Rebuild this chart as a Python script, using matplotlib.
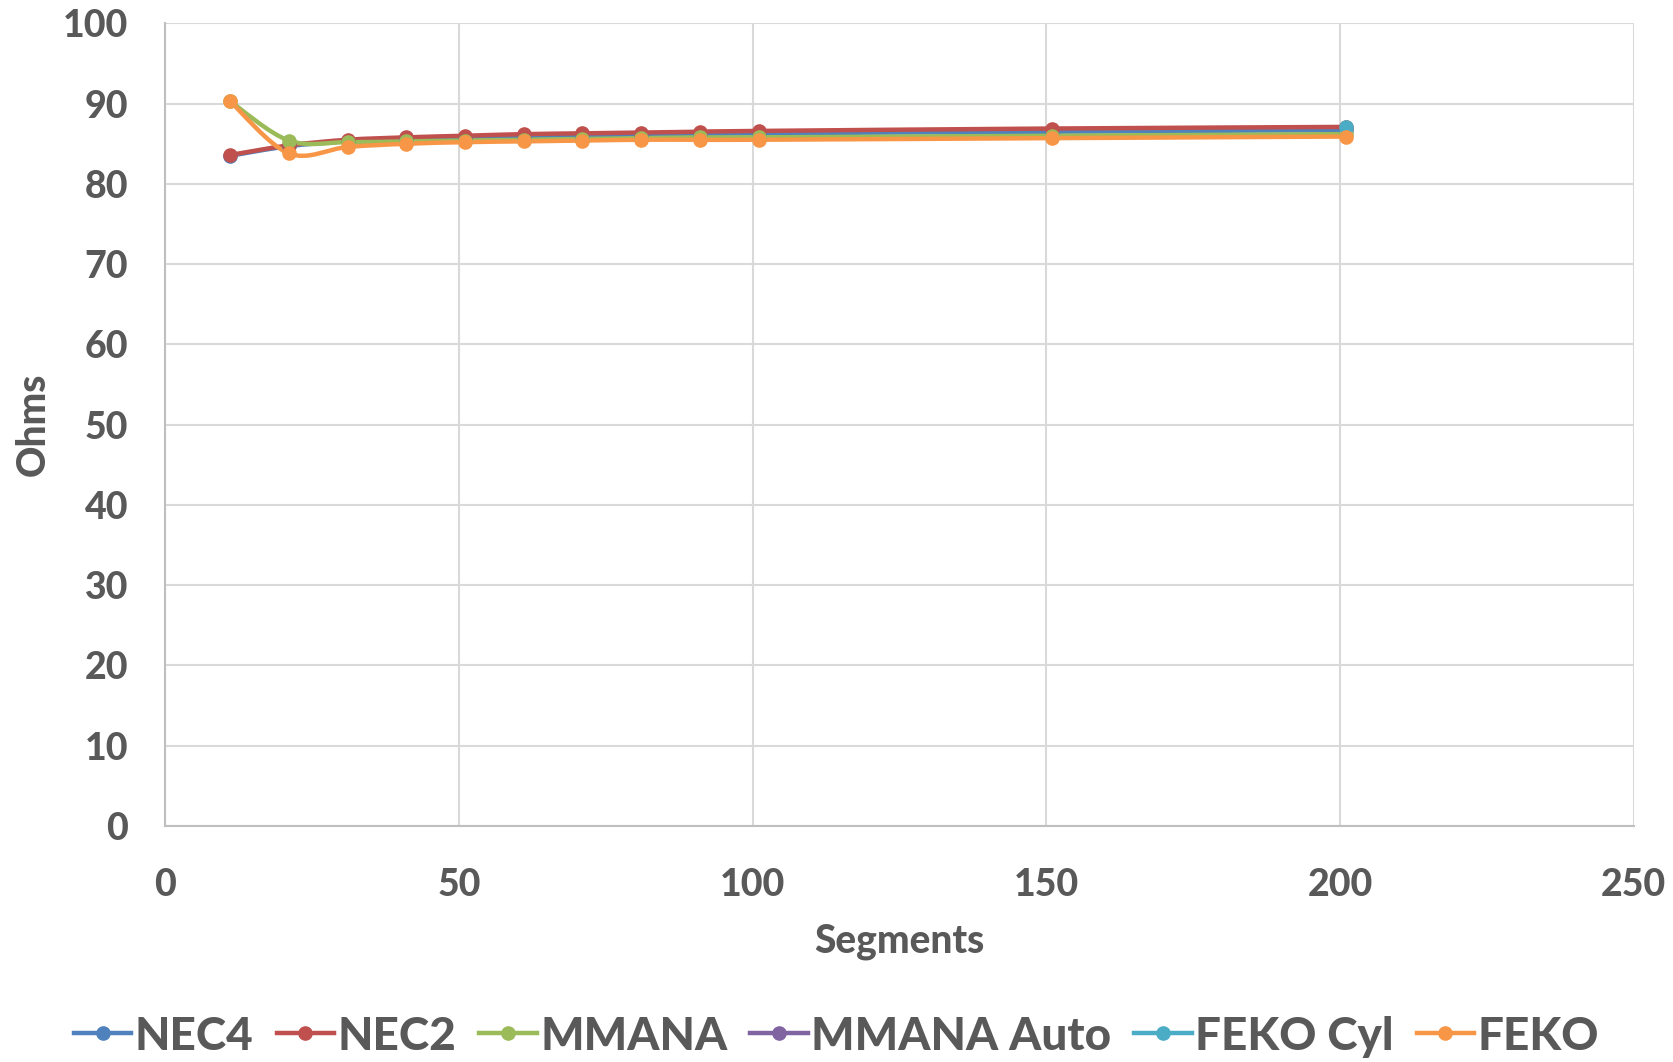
import numpy as np
import matplotlib
matplotlib.use("Agg")
import matplotlib.pyplot as plt
from matplotlib.path import Path
from matplotlib.patches import PathPatch
from matplotlib.lines import Line2D

# Segment counts and feed-point resistance (ohms) per solver
segments = [11, 21, 31, 41, 51, 61, 71, 81, 91, 101, 151, 201]
nec4 = [83.5, 84.7, 85.3, 85.6, 85.8, 85.9, 86.0, 86.1, 86.2, 86.3, 86.5, 86.7]
nec2 = [83.6, 84.8, 85.5, 85.8, 86.0, 86.2, 86.3, 86.4, 86.5, 86.6, 86.9, 87.1]
mmana = [90.3, 85.4, 85.2, 85.3, 85.4, 85.5, 85.6, 85.7, 85.8, 85.8, 86.0, 86.2]
mmana_auto_x = []
mmana_auto = []
feko_cyl_x = [201]
feko_cyl = [87.1]
feko = [90.3, 83.8, 84.6, 85.0, 85.2, 85.3, 85.4, 85.5, 85.5, 85.5, 85.7, 85.9]

series = [
    ("NEC4", segments, nec4, "#4F81BD"),
    ("NEC2", segments, nec2, "#C0504D"),
    ("MMANA", segments, mmana, "#9BBB59"),
    ("MMANA Auto", mmana_auto_x, mmana_auto, "#8064A2"),
    ("FEKO Cyl", feko_cyl_x, feko_cyl, "#4BACC6"),
    ("FEKO", segments, feko, "#F79646"),
]

TEXT = "#595959"
FONT = "Lato"
LW = 3.2
MS = 9.5


def smooth_path(xs, ys):
    """Cubic Bezier path through the points (Catmull-Rom style tangents)."""
    p = np.column_stack([xs, ys]).astype(float)
    n = len(p)
    verts = [p[0]]
    codes = [Path.MOVETO]
    for i in range(n - 1):
        p0 = p[i - 1] if i > 0 else p[i]
        p1 = p[i]
        p2 = p[i + 1]
        p3 = p[i + 2] if i + 2 < n else p[i + 1]
        c1 = p1 + (p2 - p0) / 6.0
        c2 = p2 - (p3 - p1) / 6.0
        verts += [c1, c2, p2]
        codes += [Path.CURVE4] * 3
    return Path(verts, codes)


fig = plt.figure(figsize=(16.73, 10.62), dpi=100)
ax = fig.add_axes([0.0989, 0.2222, 0.8776, 0.7558])

for label, xs, ys, color in series:
    if len(xs) > 1:
        patch = PathPatch(smooth_path(xs, ys), facecolor="none", edgecolor=color,
                          lw=LW, capstyle="round", joinstyle="round", zorder=3)
        ax.add_patch(patch)
    if len(xs) > 0:
        ax.plot(xs, ys, linestyle="none", marker="o", markersize=MS,
                color=color, zorder=4)

ax.set_xlim(0, 250)
ax.set_ylim(0, 100)
ax.set_xticks(np.arange(0, 251, 50))
ax.set_yticks(np.arange(0, 101, 10))
ax.grid(True, color="#D9D9D9", linewidth=1.5, zorder=0)
ax.set_axisbelow(True)
for side in ("top", "right"):
    ax.spines[side].set_visible(False)
for side in ("left", "bottom"):
    ax.spines[side].set_color("#BFBFBF")
    ax.spines[side].set_linewidth(1.5)
ax.tick_params(length=0, labelsize=27, labelcolor=TEXT)
ax.tick_params(axis="x", pad=30)
ax.tick_params(axis="y", pad=27)
for t in ax.get_xticklabels() + ax.get_yticklabels():
    t.set_fontfamily(FONT)
    t.set_fontweight("black")

ax.set_xlabel("Segments", fontsize=28, fontweight="black", color=TEXT,
              family=FONT, labelpad=15)
ax.set_ylabel("Ohms", fontsize=28, fontweight="black", color=TEXT,
              family=FONT, labelpad=8)

handles = [Line2D([0], [0], color=c, lw=LW, marker="o", markersize=MS)
           for _, _, _, c in series]
labels = [s[0] for s in series]
leg = fig.legend(handles, labels, loc="center", bbox_to_anchor=(0.5, 0.024),
                 ncol=6, frameon=False, handlelength=1.25, handletextpad=0.08,
                 columnspacing=0.5,
                 prop={"family": FONT, "weight": "black", "size": 33})
for t in leg.get_texts():
    t.set_color(TEXT)

fig.savefig("out.png", dpi=100)
